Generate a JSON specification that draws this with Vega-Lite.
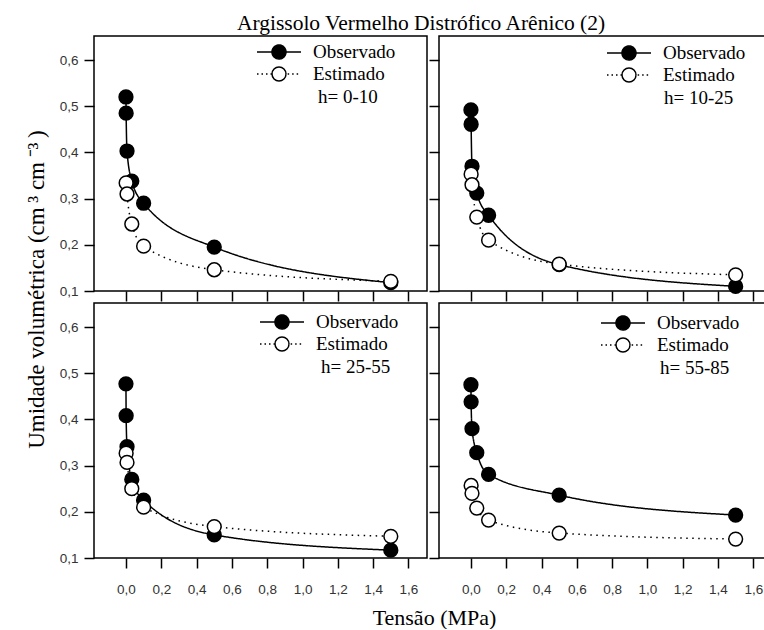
{
  "$schema": "https://vega.github.io/schema/vega-lite/v6.json",
  "padding": {"left": 24, "top": 12, "right": 0, "bottom": 0},
  "title": {"text": "Argissolo Vermelho Distrófico Arênico (2)", "font": "Liberation Serif", "fontSize": 21.5, "fontWeight": "normal", "color": "black", "anchor": "middle", "offset": 1, "dx": 21},
  "data": {"values": [
    {"h": "0-10", "serie": "Observado", "x": 0, "y": 0.52},
    {"h": "0-10", "serie": "Observado", "x": 0.001, "y": 0.485},
    {"h": "0-10", "serie": "Observado", "x": 0.006, "y": 0.403},
    {"h": "0-10", "serie": "Observado", "x": 0.033, "y": 0.338},
    {"h": "0-10", "serie": "Observado", "x": 0.1, "y": 0.29},
    {"h": "0-10", "serie": "Observado", "x": 0.5, "y": 0.195},
    {"h": "0-10", "serie": "Observado", "x": 1.5, "y": 0.118},
    {"h": "10-25", "serie": "Observado", "x": 0, "y": 0.492},
    {"h": "10-25", "serie": "Observado", "x": 0.001, "y": 0.461},
    {"h": "10-25", "serie": "Observado", "x": 0.006, "y": 0.37},
    {"h": "10-25", "serie": "Observado", "x": 0.033, "y": 0.312},
    {"h": "10-25", "serie": "Observado", "x": 0.1, "y": 0.264},
    {"h": "10-25", "serie": "Observado", "x": 0.5, "y": 0.157},
    {"h": "10-25", "serie": "Observado", "x": 1.5, "y": 0.11},
    {"h": "25-55", "serie": "Observado", "x": 0, "y": 0.477},
    {"h": "25-55", "serie": "Observado", "x": 0.001, "y": 0.408},
    {"h": "25-55", "serie": "Observado", "x": 0.006, "y": 0.341},
    {"h": "25-55", "serie": "Observado", "x": 0.033, "y": 0.27},
    {"h": "25-55", "serie": "Observado", "x": 0.1, "y": 0.225},
    {"h": "25-55", "serie": "Observado", "x": 0.5, "y": 0.15},
    {"h": "25-55", "serie": "Observado", "x": 1.5, "y": 0.117},
    {"h": "55-85", "serie": "Observado", "x": 0, "y": 0.475},
    {"h": "55-85", "serie": "Observado", "x": 0.001, "y": 0.438},
    {"h": "55-85", "serie": "Observado", "x": 0.006, "y": 0.38},
    {"h": "55-85", "serie": "Observado", "x": 0.033, "y": 0.328},
    {"h": "55-85", "serie": "Observado", "x": 0.1, "y": 0.281},
    {"h": "55-85", "serie": "Observado", "x": 0.5, "y": 0.236},
    {"h": "55-85", "serie": "Observado", "x": 1.5, "y": 0.193},
    {"h": "0-10", "serie": "Estimado", "x": 0.001, "y": 0.334},
    {"h": "0-10", "serie": "Estimado", "x": 0.006, "y": 0.31},
    {"h": "0-10", "serie": "Estimado", "x": 0.033, "y": 0.245},
    {"h": "0-10", "serie": "Estimado", "x": 0.1, "y": 0.197},
    {"h": "0-10", "serie": "Estimado", "x": 0.5, "y": 0.146},
    {"h": "0-10", "serie": "Estimado", "x": 1.5, "y": 0.121},
    {"h": "10-25", "serie": "Estimado", "x": 0.001, "y": 0.353},
    {"h": "10-25", "serie": "Estimado", "x": 0.006, "y": 0.33},
    {"h": "10-25", "serie": "Estimado", "x": 0.033, "y": 0.26},
    {"h": "10-25", "serie": "Estimado", "x": 0.1, "y": 0.21},
    {"h": "10-25", "serie": "Estimado", "x": 0.5, "y": 0.158},
    {"h": "10-25", "serie": "Estimado", "x": 1.5, "y": 0.135},
    {"h": "25-55", "serie": "Estimado", "x": 0.001, "y": 0.327},
    {"h": "25-55", "serie": "Estimado", "x": 0.006, "y": 0.307},
    {"h": "25-55", "serie": "Estimado", "x": 0.033, "y": 0.25},
    {"h": "25-55", "serie": "Estimado", "x": 0.1, "y": 0.21},
    {"h": "25-55", "serie": "Estimado", "x": 0.5, "y": 0.168},
    {"h": "25-55", "serie": "Estimado", "x": 1.5, "y": 0.147},
    {"h": "55-85", "serie": "Estimado", "x": 0.001, "y": 0.257},
    {"h": "55-85", "serie": "Estimado", "x": 0.006, "y": 0.24},
    {"h": "55-85", "serie": "Estimado", "x": 0.033, "y": 0.208},
    {"h": "55-85", "serie": "Estimado", "x": 0.1, "y": 0.182},
    {"h": "55-85", "serie": "Estimado", "x": 0.5, "y": 0.154},
    {"h": "55-85", "serie": "Estimado", "x": 1.5, "y": 0.141}
  ]},
  "columns": 2,
  "spacing": {"row": 12, "column": 12},
  "bounds": "flush",
  "resolve": {"scale": {"x": "independent", "y": "independent", "fill": "independent", "strokeDash": "independent"}, "legend": {"fill": "independent"}, "axis": {"x": "independent", "y": "independent"}},
  "concat": [
    {
      "width": 333, "height": 255,
      "transform": [{"filter": "datum.h === '0-10'"}],
      "layer": [
        {"mark": {"type": "line", "interpolate": "monotone", "color": "black", "strokeWidth": 1.5},
         "encoding": {
           "x": {"field": "x", "type": "quantitative", "scale": {"domain": [-0.181, 1.705], "nice": false, "zero": false}, "axis": {"values": [0, 0.2, 0.4, 0.6, 0.8, 1.0, 1.2, 1.4, 1.6], "labels": false, "title": null}},
           "y": {"field": "y", "type": "quantitative", "scale": {"domain": [0.1, 0.652], "nice": false, "zero": false}, "axis": {"values": [0.1, 0.2, 0.3, 0.4, 0.5, 0.6], "labelExpr": "replace(format(datum.value, '.1f'), '.', ',')", "title": "Umidade volumétrica (cm\u2009³ cm\u2009⁻³\u2009)", "titleX": -51, "titleY": 253, "titleBaseline": "alphabetic", "titleAlign": "center", "titleAngle": 270, "titleFontSize": 23}},
           "strokeDash": {"field": "serie", "type": "nominal", "scale": {"domain": ["Estimado", "Observado"], "range": [[1.5, 4.5], [1, 0]]}, "legend": null}
         }},
        {"mark": {"type": "point", "shape": "circle", "filled": true, "stroke": "black", "strokeWidth": 1.5, "size": 190, "opacity": 1},
         "encoding": {
           "x": {"field": "x", "type": "quantitative"},
           "y": {"field": "y", "type": "quantitative"},
           "fill": {"field": "serie", "type": "nominal", "scale": {"domain": ["Observado", "Estimado"], "range": ["black", "white"]},
             "legend": {"title": "h= 0-10", "orient": "none", "legendX": 173, "legendY": 4,
               "encode": {"symbols": {"update": {"strokeDash": {"signal": "datum.value === 'Estimado' ? [1.5,3,1.5,3,1.5,3,1.5,0,22,1.5,1.5,3,1.5,3,1.5,18,23,10] : [1,0]"}}}, "title": {"update": {"dx": {"value": 51}}}}}}
         }}
      ]
    },
    {
      "width": 336, "height": 255,
      "transform": [{"filter": "datum.h === '10-25'"}],
      "layer": [
        {"mark": {"type": "line", "interpolate": "monotone", "color": "black", "strokeWidth": 1.5},
         "encoding": {
           "x": {"field": "x", "type": "quantitative", "scale": {"domain": [-0.181, 1.723], "nice": false, "zero": false}, "axis": {"values": [0, 0.2, 0.4, 0.6, 0.8, 1.0, 1.2, 1.4, 1.6], "labels": false, "title": null}},
           "y": {"field": "y", "type": "quantitative", "scale": {"domain": [0.1, 0.652], "nice": false, "zero": false}, "axis": {"values": [0.1, 0.2, 0.3, 0.4, 0.5, 0.6], "labels": false, "title": null}},
           "strokeDash": {"field": "serie", "type": "nominal", "scale": {"domain": ["Estimado", "Observado"], "range": [[1.5, 4.5], [1, 0]]}, "legend": null}
         }},
        {"mark": {"type": "point", "shape": "circle", "filled": true, "stroke": "black", "strokeWidth": 1.5, "size": 190, "opacity": 1},
         "encoding": {
           "x": {"field": "x", "type": "quantitative"},
           "y": {"field": "y", "type": "quantitative"},
           "fill": {"field": "serie", "type": "nominal", "scale": {"domain": ["Observado", "Estimado"], "range": ["black", "white"]},
             "legend": {"title": "h= 10-25", "orient": "none", "legendX": 178, "legendY": 5,
               "encode": {"symbols": {"update": {"strokeDash": {"signal": "datum.value === 'Estimado' ? [1.5,3,1.5,3,1.5,3,1.5,0,22,1.5,1.5,3,1.5,3,1.5,18,23,10] : [1,0]"}}}, "title": {"update": {"dx": {"value": 47}}}}}}
         }}
      ]
    },
    {
      "width": 333, "height": 255,
      "transform": [{"filter": "datum.h === '25-55'"}],
      "layer": [
        {"mark": {"type": "line", "interpolate": "monotone", "color": "black", "strokeWidth": 1.5},
         "encoding": {
           "x": {"field": "x", "type": "quantitative", "scale": {"domain": [-0.181, 1.705], "nice": false, "zero": false}, "axis": {"values": [0, 0.2, 0.4, 0.6, 0.8, 1.0, 1.2, 1.4, 1.6], "labelExpr": "replace(format(datum.value, '.1f'), '.', ',')", "title": "Tensão (MPa)", "titleX": 340, "titleY": 66, "titleBaseline": "alphabetic", "titleAlign": "center"}},
           "y": {"field": "y", "type": "quantitative", "scale": {"domain": [0.1, 0.652], "nice": false, "zero": false}, "axis": {"values": [0.1, 0.2, 0.3, 0.4, 0.5, 0.6], "labelExpr": "replace(format(datum.value, '.1f'), '.', ',')", "title": null}},
           "strokeDash": {"field": "serie", "type": "nominal", "scale": {"domain": ["Estimado", "Observado"], "range": [[1.5, 4.5], [1, 0]]}, "legend": null}
         }},
        {"mark": {"type": "point", "shape": "circle", "filled": true, "stroke": "black", "strokeWidth": 1.5, "size": 190, "opacity": 1},
         "encoding": {
           "x": {"field": "x", "type": "quantitative"},
           "y": {"field": "y", "type": "quantitative"},
           "fill": {"field": "serie", "type": "nominal", "scale": {"domain": ["Observado", "Estimado"], "range": ["black", "white"]},
             "legend": {"title": "h= 25-55", "orient": "none", "legendX": 176, "legendY": 7,
               "encode": {"symbols": {"update": {"strokeDash": {"signal": "datum.value === 'Estimado' ? [1.5,3,1.5,3,1.5,3,1.5,0,22,1.5,1.5,3,1.5,3,1.5,18,23,10] : [1,0]"}}}, "title": {"update": {"dx": {"value": 51}}}}}}
         }}
      ]
    },
    {
      "width": 336, "height": 255,
      "transform": [{"filter": "datum.h === '55-85'"}],
      "layer": [
        {"mark": {"type": "line", "interpolate": "monotone", "color": "black", "strokeWidth": 1.5},
         "encoding": {
           "x": {"field": "x", "type": "quantitative", "scale": {"domain": [-0.181, 1.723], "nice": false, "zero": false}, "axis": {"values": [0, 0.2, 0.4, 0.6, 0.8, 1.0, 1.2, 1.4, 1.6], "labelExpr": "replace(format(datum.value, '.1f'), '.', ',')", "title": null}},
           "y": {"field": "y", "type": "quantitative", "scale": {"domain": [0.1, 0.652], "nice": false, "zero": false}, "axis": {"values": [0.1, 0.2, 0.3, 0.4, 0.5, 0.6], "labels": false, "title": null}},
           "strokeDash": {"field": "serie", "type": "nominal", "scale": {"domain": ["Estimado", "Observado"], "range": [[1.5, 4.5], [1, 0]]}, "legend": null}
         }},
        {"mark": {"type": "point", "shape": "circle", "filled": true, "stroke": "black", "strokeWidth": 1.5, "size": 190, "opacity": 1},
         "encoding": {
           "x": {"field": "x", "type": "quantitative"},
           "y": {"field": "y", "type": "quantitative"},
           "fill": {"field": "serie", "type": "nominal", "scale": {"domain": ["Observado", "Estimado"], "range": ["black", "white"]},
             "legend": {"title": "h= 55-85", "orient": "none", "legendX": 172, "legendY": 8,
               "encode": {"symbols": {"update": {"strokeDash": {"signal": "datum.value === 'Estimado' ? [1.5,3,1.5,3,1.5,3,1.5,0,22,1.5,1.5,3,1.5,3,1.5,18,23,10] : [1,0]"}}}, "title": {"update": {"dx": {"value": 49}}}}}}
         }}
      ]
    }
  ],
  "config": {
    "view": {"stroke": "black", "strokeWidth": 1.5},
    "axis": {"domain": false, "grid": false, "ticks": true, "tickSize": 10, "tickWidth": 1.5, "tickColor": "black", "labelFont": "Liberation Sans", "labelFontSize": 13.5, "labelColor": "#333", "labelPadding": 6, "titleFont": "Liberation Serif", "titleFontSize": 22, "titleFontWeight": "normal", "titleColor": "black"},
    "axisX": {"labelPadding": 14},
    "legend": {"symbolType": "M-2,0L-0.636,0A0.636,0.636,0,0,1,0.636,0L2,0L0.636,0A0.636,0.636,0,0,1,-0.636,0", "symbolSize": 484, "symbolOffset": 0, "symbolStrokeWidth": 1.5, "symbolStrokeColor": "black", "symbolOpacity": 1, "labelOffset": 22, "rowPadding": -2, "padding": 0, "labelFont": "Liberation Serif", "labelFontSize": 19, "labelColor": "black", "titleFont": "Liberation Serif", "titleFontSize": 19, "titleFontWeight": "normal", "titleColor": "black", "titleOrient": "bottom", "titleAnchor": "start", "titlePadding": 4, "titleLimit": 300}
  }
}
